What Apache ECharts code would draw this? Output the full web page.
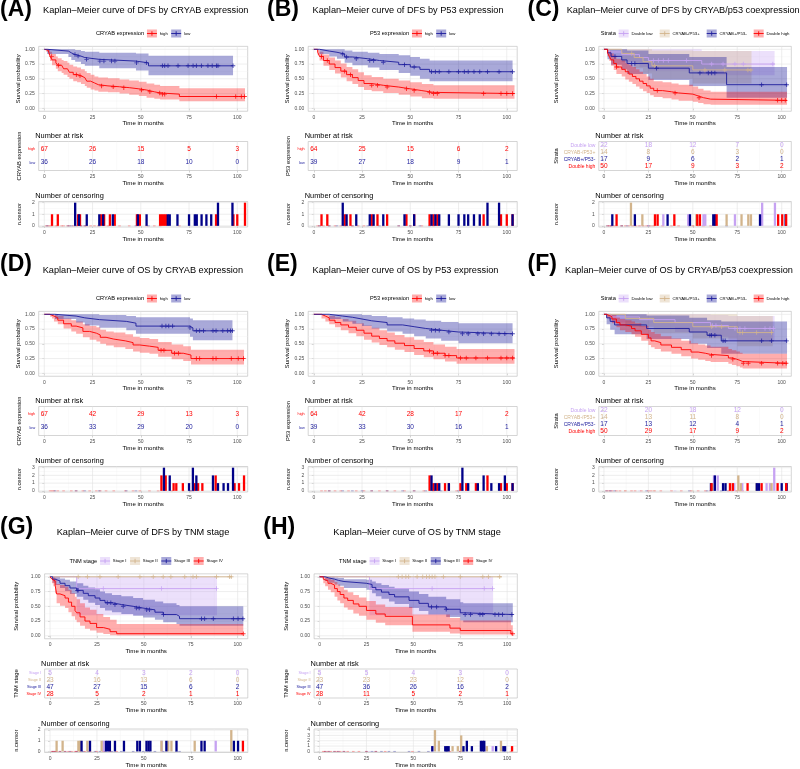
<!DOCTYPE html>
<html><head><meta charset="utf-8">
<script src="https://cdn.jsdelivr.net/npm/echarts@6/dist/echarts.min.js"></script>
<style>html,body{margin:0;padding:0;background:#fff}#c{width:800px;height:769px}</style>
</head><body><div id="c"></div>
<script>
// ---------- ticks ----------
const TIME_TICKS = [0, 25, 50, 75, 100];
const TIME_MINOR = [12.5, 37.5, 62.5, 87.5];
const SURV_TICKS = [0, 0.25, 0.5, 0.75, 1];
const SURV_MINOR = [0.125, 0.375, 0.625, 0.875];

// ---------- curves: [time, surv, lower, upper] ----------
// (A) DFS by CRYAB
const A_high = [[0,1,1,1],[1,0.985,0.96,1],[2,0.955,0.91,1],[3,0.88,0.80,0.96],[4,0.82,0.73,0.92],[6,0.77,0.67,0.88],[7,0.73,0.63,0.85],[9,0.70,0.60,0.82],[10,0.67,0.57,0.80],[12,0.64,0.53,0.77],[13,0.61,0.50,0.74],[15,0.57,0.46,0.71],[17,0.55,0.44,0.69],[19,0.52,0.41,0.66],[21,0.49,0.38,0.63],[22,0.46,0.35,0.60],[24,0.43,0.32,0.57],[26,0.40,0.30,0.54],[28,0.38,0.28,0.52],[33,0.365,0.27,0.51],[39,0.35,0.25,0.49],[44,0.33,0.23,0.47],[49,0.31,0.21,0.45],[53,0.28,0.18,0.42],[57,0.26,0.16,0.40],[60,0.24,0.15,0.38],[70,0.20,0.12,0.34],[104,0.20,0.12,0.34]];
const A_high_cens = [3.8,7.3,16.6,18.5,29.7,35.7,41.2,50.4,54.7,59.8,61.2,62.4,89.2,99.2,102.1,103.8];
const A_low = [[0,1,1,1],[1.5,0.97,0.92,1],[12.5,0.94,0.87,1],[14,0.91,0.82,1],[16,0.885,0.79,0.99],[19,0.86,0.75,0.97],[21,0.83,0.72,0.96],[28.5,0.80,0.68,0.94],[47.5,0.77,0.64,0.93],[54,0.72,0.56,0.89],[97.8,0.72,0.56,0.89]];
const A_low_cens = [15.9,17.5,21.9,28.8,30.9,34.8,36.6,47.8,52.9,61.2,62.4,64.1,69.3,74.5,77.1,78.8,81.4,84.8,87,89.2,90,97.8];
const A_risk_high = [67,26,15,5,3];
const A_risk_low = [36,26,18,10,0];
const A_nc_high = [[4,1],[7,1],[17.5,1],[18.5,1],[29.5,1],[31,1],[34,1],[36.5,1],[48,1],[49.5,1],[60,1],[61,1],[62,1],[63,1],[89,1],[98,1],[100,1],[104,2]];
const A_nc_low = [[16,2],[18,1],[22,1],[28.5,1],[30.5,1],[35.5,1],[48.5,1],[53,1],[64,1],[65,1],[69,1],[75,1],[78,1],[79,1],[81.5,1],[84,1],[86.5,1],[90,2],[97.5,2]];

// (B) DFS by P53
const B_high = [[0,1,1,1],[2,0.95,0.9,1],[3,0.88,0.81,0.96],[5,0.81,0.72,0.91],[8,0.75,0.65,0.86],[11,0.69,0.59,0.81],[14,0.63,0.52,0.76],[17,0.57,0.46,0.70],[20,0.52,0.41,0.66],[23,0.47,0.36,0.61],[26,0.42,0.31,0.56],[30,0.39,0.29,0.53],[36,0.36,0.26,0.50],[44,0.33,0.23,0.47],[50,0.30,0.20,0.44],[56,0.27,0.17,0.41],[62,0.25,0.16,0.39],[104,0.25,0.16,0.39]];
const B_high_cens = [4,7,16,19,30,33,38,48,52,60,62,64,88,97,100,103];
const B_low = [[0,1,1,1],[3,0.97,0.92,1],[8,0.95,0.88,1],[12,0.92,0.84,1],[16,0.87,0.77,0.98],[20,0.84,0.73,0.96],[28,0.81,0.69,0.94],[34,0.78,0.65,0.92],[44,0.74,0.6,0.9],[50,0.70,0.55,0.87],[55,0.66,0.5,0.84],[60,0.62,0.46,0.81],[103,0.62,0.46,0.81]];
const B_low_cens = [15,17,22,29,31,36,47,52,61,63,65,70,75,78,80,83,86,90,96,103];
const B_risk_high = [64,25,15,6,2];
const B_risk_low = [39,27,18,9,1];
const B_nc_high = [[4,1],[7,1],[16,1],[19,1],[30,1],[33,1],[38,1],[48,1],[52,1],[60,1],[62,1],[64,1],[88,1],[97,1],[100,1],[103,1]];
const B_nc_low = [[15,2],[17,1],[22,1],[29,1],[31,1],[36,1],[47,1],[52,1],[61,1],[63,1],[65,1],[70,1],[75,1],[78,1],[80,1],[83,1],[86,1],[90,2],[96,2],[103,1]];

// (C) DFS by CRYAB/p53
const C_dlow = [[0,1,1,1],[3,0.955,0.87,1],[10,0.91,0.78,1],[20,0.86,0.70,1],[25,0.81,0.64,1],[55,0.75,0.56,0.97],[96,0.75,0.56,0.97]];
const C_dlow_cens = [27.8,30.6,33.4,36.2,46.5,60.6,67,73.7,78.4,95];
const C_tan = [[0,1,1,1],[10,0.93,0.79,1],[17,0.86,0.68,1],[22,0.79,0.59,1],[27,0.72,0.5,0.98],[50,0.65,0.42,0.97],[83,0.65,0.42,0.97]];
const C_tan_cens = [15.6,28.5,56.8,68,81,82.7];
const C_blue = [[0,1,1,1],[2,0.94,0.83,1],[4,0.88,0.74,1],[10,0.82,0.66,1],[13,0.76,0.58,0.98],[25,0.68,0.48,0.92],[48,0.60,0.38,0.87],[69,0.40,0.18,0.70],[103,0.40,0.18,0.70]];
const C_blue_cens = [6.2,15.6,17.4,29.6,54,58.7,60.6,62.4,88.7,102.8];
const C_red = [[0,1,1,1],[2,0.94,0.88,1],[3,0.88,0.8,0.97],[4,0.82,0.72,0.93],[5.5,0.76,0.65,0.89],[7,0.70,0.58,0.84],[10,0.66,0.54,0.81],[12,0.62,0.49,0.77],[14,0.58,0.45,0.74],[16,0.54,0.41,0.7],[18,0.50,0.37,0.66],[20,0.46,0.33,0.62],[22,0.42,0.29,0.58],[24,0.38,0.26,0.54],[26,0.34,0.22,0.5],[28,0.30,0.19,0.46],[33,0.28,0.17,0.44],[38,0.26,0.15,0.42],[42,0.24,0.13,0.4],[50,0.21,0.11,0.37],[53,0.18,0.09,0.33],[56,0.155,0.07,0.3],[60,0.135,0.06,0.28],[103,0.135,0.06,0.28]];
const C_red_cens = [7.1,30,40,53.5,97.7,100,102];
const C_risk_dlow = [22,18,12,7,0];
const C_risk_tan = [14,8,6,3,0];
const C_risk_blue = [17,9,6,2,1];
const C_risk_red = [50,17,9,3,2];
const C_nc_dlow = [[33.4,1],[47.4,1],[56,1],[57,1],[73.7,1],[89,2],[96.2,2]];
const C_nc_tan = [[15.2,2],[21.6,1],[52,1],[69,1],[77.4,1],[81.2,1],[82.7,1]];
const C_nc_blue = [[4.7,1],[17.4,1],[35.8,1],[48.4,1],[61.5,1],[62.5,1],[87.8,1],[102.2,1]];
const C_nc_red = [[7.1,1],[28.7,1],[30.2,1],[39.6,1],[52.5,1],[54,1],[63.4,1],[98,1],[100.3,1],[102.5,1]];

// (D) OS by CRYAB
const D_high = [[0,1,1,1],[3,0.985,0.96,1],[4,0.97,0.93,1],[5,0.94,0.88,0.99],[7,0.90,0.83,0.97],[10,0.84,0.76,0.93],[14,0.80,0.71,0.9],[16.5,0.77,0.67,0.88],[20,0.71,0.61,0.83],[23.5,0.68,0.57,0.8],[27,0.65,0.54,0.78],[29,0.61,0.5,0.74],[32,0.58,0.47,0.71],[36,0.55,0.44,0.69],[42,0.52,0.41,0.66],[46,0.48,0.37,0.62],[49.5,0.46,0.35,0.6],[54.5,0.44,0.33,0.58],[59,0.39,0.28,0.53],[66,0.34,0.24,0.49],[72,0.31,0.21,0.46],[76,0.25,0.15,0.4],[103.5,0.25,0.15,0.4]];
const D_high_cens = [60.5,62,67.5,69.5,78.8,80.5,87.4,89,96.9,100.5,103.2];
const D_low = [[0,1,1,1],[5.5,0.97,0.92,1],[16.5,0.94,0.86,1],[21,0.91,0.81,1],[28.5,0.88,0.77,0.99],[42.5,0.85,0.73,0.97],[47.5,0.80,0.67,0.95],[75.5,0.77,0.62,0.93],[77,0.72,0.56,0.9],[97.5,0.72,0.56,0.9]];
const D_low_cens = [61,63,64.5,66.5,75.5,78.8,80.5,82.5,87.4,89,92.5,95,96.5,97.5];
const D_risk_high = [67,42,29,13,3];
const D_risk_low = [36,33,29,20,0];
const D_nc_high = [[60.7,2],[62.9,2],[67,1],[68.4,1],[71.8,1],[77.9,1],[79.7,1],[81.9,1],[88.8,2],[98.6,1],[100.9,1],[103.5,2]];
const D_nc_low = [[62,3],[65,2],[75,1],[77,3],[78.8,2],[87.4,2],[90,1],[92.9,1],[95.2,1],[97.8,3]];

// (E) OS by P53
const E_high = [[0,1,1,1],[4,0.97,0.93,1],[6,0.94,0.88,0.99],[8,0.9,0.83,0.97],[11,0.86,0.78,0.95],[14,0.82,0.73,0.92],[18,0.78,0.68,0.89],[22,0.73,0.63,0.85],[26,0.68,0.57,0.81],[30,0.63,0.52,0.77],[34,0.59,0.48,0.73],[38,0.55,0.44,0.69],[42,0.51,0.4,0.65],[47,0.47,0.36,0.61],[52,0.42,0.31,0.57],[57,0.38,0.27,0.53],[62,0.34,0.24,0.49],[68,0.3,0.2,0.45],[74,0.26,0.16,0.41],[104,0.26,0.16,0.41]];
const E_high_cens = [60,62,64,68,70,76,79,84,90,97,100,103];
const E_low = [[0,1,1,1],[8,0.97,0.92,1],[15,0.95,0.88,1],[20,0.92,0.84,1],[25,0.89,0.8,0.99],[30,0.86,0.76,0.97],[38,0.82,0.71,0.95],[46,0.79,0.67,0.93],[52,0.76,0.63,0.91],[58,0.73,0.59,0.89],[66,0.70,0.55,0.87],[75,0.67,0.51,0.85],[103,0.67,0.51,0.85]];
const E_low_cens = [61,63,65,70,77,80,85,88,92,96,99,103];
const E_risk_high = [64,42,28,17,2];
const E_risk_low = [39,33,30,16,1];
const E_nc_high = [[60,2],[62,1],[64,1],[68,1],[70,1],[76,1],[79,1],[84,1],[90,2],[97,1],[100,1],[103,1]];
const E_nc_low = [[61,2],[63,1],[65,1],[70,1],[77,3],[80,1],[85,1],[88,2],[92,1],[96,1],[99,2],[103,1]];

// (F) OS by CRYAB/p53
const F_dlow = [[0,1,1,1],[4,0.955,0.86,1],[20,0.91,0.78,1],[40,0.86,0.7,1],[60,0.81,0.62,0.99],[70,0.76,0.55,0.97],[96,0.76,0.55,0.97]];
const F_dlow_cens = [61,63,73.7,76.5,79.3,90.6,93.4,95.3];
const F_tan = [[0,1,1,1],[12,0.93,0.79,1],[28,0.86,0.68,1],[50,0.79,0.59,1],[75,0.69,0.46,0.97],[95,0.69,0.46,0.97]];
const F_tan_cens = [60.6,66.2,76.5,78,85.9,94.3];
const F_blue = [[0,1,1,1],[1.5,0.94,0.83,1],[3.5,0.88,0.74,1],[6,0.82,0.66,1],[24,0.76,0.58,0.98],[48,0.70,0.5,0.94],[58,0.645,0.43,0.9],[66,0.55,0.33,0.88],[103,0.55,0.33,0.88]];
const F_blue_cens = [59.6,60.5,62.4,67,68.2,88.7,94.3,102.8];
const F_red = [[0,1,1,1],[1.5,0.98,0.94,1],[3,0.96,0.91,1],[4.5,0.92,0.85,0.99],[7,0.86,0.78,0.95],[9,0.82,0.73,0.92],[12,0.80,0.7,0.9],[15.5,0.76,0.66,0.88],[17.5,0.72,0.62,0.85],[21,0.66,0.55,0.8],[25,0.60,0.48,0.74],[26.5,0.55,0.44,0.7],[28.5,0.52,0.41,0.67],[32,0.48,0.37,0.63],[38,0.44,0.33,0.59],[43.5,0.40,0.29,0.55],[49,0.36,0.25,0.51],[53,0.34,0.23,0.49],[57,0.32,0.21,0.47],[60,0.30,0.19,0.45],[70,0.26,0.16,0.41],[72,0.24,0.14,0.39],[74.5,0.22,0.12,0.37],[76.5,0.20,0.1,0.35],[78,0.17,0.08,0.33],[103,0.17,0.08,0.33]];
const F_red_cens = [60.5,72.5,78.4,81.2,88.7,97.7,100.6,102.5];
const F_risk_dlow = [22,20,18,12,0];
const F_risk_tan = [14,13,11,8,0];
const F_risk_blue = [17,13,12,4,1];
const F_risk_red = [50,29,17,9,2];
const F_nc_dlow = [[61.9,2],[64,2],[73.3,1],[77.8,1],[91.5,1],[93.4,1],[95.8,3]];
const F_nc_tan = [[61,1],[75.6,2],[77,1],[85.9,1],[94.3,1]];
const F_nc_blue = [[60.2,1],[62.4,2],[67,1],[68.4,1],[86,1],[87.2,1],[100,1],[102.8,1]];
const F_nc_red = [[60.5,1],[70.9,1],[72.5,1],[80.8,1],[88.7,1],[97.7,1],[102.5,1]];

// (G) DFS by TNM stage
const G_s1 = [[0,1,1,1],[14.2,0.8,0.35,1],[89,0.8,0.35,1]];
const G_s1_cens = [28.4,59.4,88.7];
const G_s2 = [[0,1,1,1],[97,1,1,1]];
const G_s2_cens = [15,19.9,26.6,36.3,47.9,55,60.3,64.4,71.8,76.2,78,88.7,95.7,96.6];
const G_s3 = [[0,1,1,1],[1.4,0.96,0.9,1],[2.7,0.93,0.86,1],[5.3,0.89,0.81,0.97],[8,0.85,0.76,0.95],[10.6,0.81,0.71,0.92],[14.2,0.77,0.66,0.89],[17.7,0.72,0.61,0.85],[20.4,0.68,0.56,0.82],[24,0.64,0.52,0.79],[26.6,0.60,0.47,0.75],[29.3,0.56,0.43,0.72],[33,0.53,0.4,0.69],[38,0.50,0.37,0.67],[44.3,0.47,0.34,0.64],[49.6,0.44,0.31,0.61],[55.9,0.40,0.27,0.58],[60.3,0.36,0.23,0.55],[67.4,0.33,0.2,0.52],[69,0.29,0.17,0.5],[103,0.29,0.17,0.5]];
const G_s3_cens = [14.5,15,30.5,32.4,34.6,39,46,47.5,51.5,53,60.5,80.7,82.4,87,97.7,100.2,102.8];
const G_s4 = [[0,1,1,1],[1,0.96,0.89,1],[1.8,0.93,0.84,1],[2.7,0.86,0.72,0.97],[3.5,0.71,0.55,0.88],[5.3,0.68,0.51,0.86],[8,0.64,0.47,0.83],[9.8,0.57,0.4,0.78],[11.5,0.50,0.33,0.72],[13.3,0.43,0.27,0.66],[14.2,0.39,0.23,0.62],[16,0.32,0.17,0.55],[18.6,0.25,0.12,0.48],[21.3,0.21,0.09,0.44],[24.8,0.14,0.05,0.37],[28.4,0.11,0.03,0.32],[32,0.07,0.01,0.27],[35.5,0.036,0.005,0.2],[103,0.036,0.005,0.2]];
const G_s4_cens = [103];
const G_risk_s1 = [5,4,3,2,0];
const G_risk_s2 = [23,16,13,6,0];
const G_risk_s3 = [47,27,15,6,2];
const G_risk_s4 = [28,5,2,1,1];
const G_nc_s1 = [[28.5,1],[59.5,1],[88.3,1]];
const G_nc_s2 = [[3.5,1],[6.7,1],[15.1,1],[16,1],[19.9,1],[27.5,1],[59.4,1],[63,1],[64.7,1],[77.1,1],[96.6,2]];
const G_nc_s3 = [[16.8,1],[21.3,1],[29.8,1],[30.8,1],[31.9,1],[34.6,1],[39.4,1],[46.5,1],[47.9,1],[51.4,1],[52.5,1],[53.5,1],[62,1],[67.4,1],[80.7,1],[82.4,1],[98,1],[100.2,1]];
const G_nc_s4 = [[102.8,1]];

// (H) OS by TNM stage
const H_s1 = [[0,1,1,1],[26.6,0.8,0.35,1],[92.5,0.8,0.35,1]];
const H_s1_cens = [60,87.8,92.2];
const H_s2 = [[0,1,1,1],[97,1,1,1]];
const H_s2_cens = [42,44,46,47.5,52,55,57,58.5,60,61.5,66,75,87,90,96];
const H_s3 = [[0,1,1,1],[3,0.98,0.93,1],[5,0.96,0.9,1],[8,0.94,0.87,0.99],[10,0.92,0.85,0.98],[13,0.89,0.81,0.96],[25,0.87,0.78,0.95],[28,0.82,0.72,0.92],[30,0.78,0.67,0.89],[33,0.74,0.63,0.86],[37,0.70,0.58,0.83],[40,0.66,0.54,0.8],[47.7,0.60,0.47,0.75],[53,0.55,0.42,0.71],[58,0.49,0.36,0.66],[67.5,0.45,0.32,0.62],[75,0.39,0.26,0.57],[76.6,0.36,0.23,0.55],[103,0.36,0.23,0.55]];
const H_s3_cens = [59.7,62.4,67.5,77.6,80.5,85.5,87,93.5,95.5,97.5,102.5];
const H_s4 = [[0,1,1,1],[2,0.96,0.89,1],[3,0.93,0.84,1],[4.5,0.89,0.78,0.97],[6,0.86,0.74,0.95],[8,0.80,0.66,0.91],[9.5,0.75,0.6,0.87],[11,0.70,0.55,0.83],[13,0.64,0.48,0.78],[15,0.60,0.44,0.74],[18,0.54,0.38,0.69],[21,0.50,0.34,0.65],[25,0.43,0.27,0.59],[30,0.37,0.22,0.53],[35,0.33,0.18,0.49],[49.5,0.185,0.07,0.36],[69.5,0.13,0.04,0.3],[75,0.09,0.02,0.26],[102,0.034,0.005,0.18],[103,0.034,0.005,0.18]];
const H_s4_cens = [103];
const H_risk_s1 = [5,5,4,3,0];
const H_risk_s2 = [23,23,23,12,0];
const H_risk_s3 = [47,36,26,16,2];
const H_risk_s4 = [28,11,5,2,1];
const H_nc_s1 = [[60,1],[87.8,1],[92.3,1]];
const H_nc_s2 = [[61.5,4],[63.6,2],[70.9,1],[73.7,1],[75.5,3],[89.2,1],[96.7,2]];
const H_nc_s3 = [[60.1,1],[67,1],[68,1],[68.8,1],[76.7,1],[78.5,2],[81.2,1],[86,2],[87,2],[87.8,2],[94.1,1],[98,1],[98.9,1]];
const H_nc_s4 = [[102.6,1]];

// ---------- styling ----------
const RED = '#FF0000', NAVY = '#1C1C9C', LAV = '#C6A2F2', TAN = '#D2B48C';
const BAND = {[RED]:'rgba(255,0,0,0.32)', [NAVY]:'rgba(28,28,156,0.38)', [LAV]:'rgba(198,162,242,0.33)', [TAN]:'rgba(210,180,140,0.35)'};
const BARC = {[RED]:'#FF0000', [NAVY]:'#000088', [LAV]:'#C6A2F2', [TAN]:'#D2B48C'};
const FF = '"Liberation Sans", Arial, Helvetica, sans-serif';
const PLUS = 'path://M4,0H6V4H10V6H6V10H4V6H0V4H4Z';
const XMIN = -2.9, XMAX = 105.4;

const grids = [], xAxes = [], yAxes = [], series = [], gfx = [];
const mctx = document.createElement('canvas').getContext('2d');
function tw(t, size){ mctx.font = size + 'px ' + FF; return mctx.measureText(t).width; }
function txt(x, y, text, size, o){
  o = o || {};
  gfx.push({type:'text', x:x, y:y, rotation:o.rot||0, silent:true, z:50,
    style:{text:text, font:(o.bold?'bold ':'') + size + 'px ' + FF, fill:o.color||'#000',
      align:o.align||'left', verticalAlign:'middle', textAlign:o.align||'left', textVerticalAlign:'middle'}});
}
function stepAt(rows, t){ let s = rows[0][1]; for (const r of rows){ if (r[0] <= t) s = r[1]; else break; } return s; }

function addGrid(left, top, width, height){
  grids.push({left:left, top:top, width:width, height:height, show:true, borderColor:'#B8B8B8', borderWidth:0.6, backgroundColor:'#fff'});
  return grids.length - 1;
}
function addX(gi, gap){
  xAxes.push({gridIndex:gi, type:'value', min:XMIN, max:XMAX,
    axisLine:{show:false}, splitLine:{show:false},
    axisTick:{show:true, length:2, lineStyle:{color:'#B3B3B3', width:0.6}, customValues:TIME_TICKS},
    axisLabel:{customValues:TIME_TICKS, fontSize:5, color:'#4D4D4D', margin:3.5, fontFamily:FF},
    name:'Time in months', nameLocation:'middle', nameGap:gap,
    nameTextStyle:{fontSize:6.1, color:'#000', fontFamily:FF}});
}
function addY(gi, o){
  yAxes.push({gridIndex:gi, type:'value', min:o.min, max:o.max, inverse:!!o.inverse,
    axisLine:{show:false}, splitLine:{show:false},
    axisTick:{show:true, length:2, lineStyle:{color:'#B3B3B3', width:0.6}, customValues:o.ticks},
    axisLabel:{customValues:o.ticks, fontSize:5, color:'#4D4D4D', margin:o.margin||4, fontFamily:FF, formatter:o.fmt, rich:o.rich},
    name:o.name, nameLocation:'middle', nameRotate:90, nameGap:o.gap,
    nameTextStyle:{fontSize:5.8, color:'#000', fontFamily:FF}});
}
function gridLines(gi, xMaj, xMin, yMaj, yMin){
  series.push({type:'custom', xAxisIndex:gi, yAxisIndex:gi, silent:true, z:1, data:[[0,0]],
    renderItem:function(params, api){
      const cs = params.coordSys, ch = [];
      const v = (vals, col, w) => vals.forEach(x => { const p = api.coord([x, 0]); ch.push({type:'line', shape:{x1:p[0], y1:cs.y, x2:p[0], y2:cs.y+cs.height}, style:{stroke:col, lineWidth:w}}); });
      const h = (vals, col, w) => vals.forEach(y => { const p = api.coord([0, y]); ch.push({type:'line', shape:{x1:cs.x, y1:p[1], x2:cs.x+cs.width, y2:p[1]}, style:{stroke:col, lineWidth:w}}); });
      v(xMin, '#F2F2F2', 0.4); h(yMin, '#F2F2F2', 0.4);
      v(xMaj, '#E3E3E3', 0.6); h(yMaj, '#E3E3E3', 0.6);
      return {type:'group', children:ch};
    }});
}
function band(gi, rows, color){
  series.push({type:'custom', xAxisIndex:gi, yAxisIndex:gi, silent:true, z:2, data:[[rows[0][0], rows[0][1]]],
    renderItem:function(params, api){
      const up = [], lo = [];
      for (let i = 0; i < rows.length; i++){
        const t0 = rows[i][0], t1 = i < rows.length-1 ? rows[i+1][0] : rows[i][0];
        up.push(api.coord([t0, rows[i][3]]), api.coord([t1, rows[i][3]]));
        lo.push(api.coord([t0, rows[i][2]]), api.coord([t1, rows[i][2]]));
      }
      return {type:'polygon', shape:{points:up.concat(lo.reverse())}, style:{fill:BAND[color]}};
    }});
}
function curve(gi, rows, cens, color, name){
  series.push({type:'line', name:name, xAxisIndex:gi, yAxisIndex:gi, step:'end', silent:true, z:3,
    data:rows.map(r => [r[0], r[1]]), symbol:'none', showSymbol:false, lineStyle:{color:color, width:0.9}, itemStyle:{color:color}});
  series.push({type:'scatter', xAxisIndex:gi, yAxisIndex:gi, silent:true, z:4, symbol:PLUS, symbolSize:4.5,
    data:cens.map(t => [t, stepAt(rows, t)]), itemStyle:{color:color}});
}
function riskText(gi, risk, colors){
  const data = [];
  risk.forEach((arr, ri) => arr.forEach((v, ti) => data.push([TIME_TICKS[ti], ri+1, v])));
  series.push({type:'custom', xAxisIndex:gi, yAxisIndex:gi, silent:true, z:5, data:data,
    renderItem:function(params, api){
      const p = api.coord([api.value(0), api.value(1)]);
      return {type:'text', x:p[0], y:p[1], style:{text:String(api.value(2)), fill:colors[api.value(1)-1],
        font:'6.5px ' + FF, align:'center', verticalAlign:'middle'}};
    }});
}
function bars(gi, data, color){
  series.push({type:'bar', xAxisIndex:gi, yAxisIndex:gi, silent:true, z:3, data:data, barWidth:2.3, barGap:'-100%',
    itemStyle:{color:BARC[color]}});
}
// zero-count censoring bars at event times (ggplot draws them as flat marks on the baseline)
function zeroBars(gi, rows, color){
  const data = [];
  for (let i = 1; i < rows.length - 1; i++) if (rows[i][1] < rows[i-1][1]) data.push([rows[i][0], 0]);
  series.push({type:'custom', xAxisIndex:gi, yAxisIndex:gi, silent:true, z:2, data:data,
    renderItem:function(params, api){
      const p = api.coord([api.value(0), 0]);
      return {type:'line', shape:{x1:p[0]-1.3, y1:p[1], x2:p[0]+1.3, y2:p[1]}, style:{stroke:BARC[color], lineWidth:0.7, opacity:0.45}};
    }});
}
function legend(cx, cy, title, names, colors, gap){
  const TS = 5.7, LS = 4.3, K = 10, G1 = 2.8, G2 = 2.8, G3 = gap;
  const lw = names.map(n => tw(n, LS));
  let total = tw(title, TS) + G1 + lw.reduce((a, b) => a + b, 0) + names.length*(K+G2) + (names.length-1)*G3;
  let x = cx - total/2;
  txt(x, cy, title, TS);
  x += tw(title, TS) + G1;
  names.forEach((n, i) => {
    gfx.push({type:'rect', silent:true, z:50, shape:{x:x, y:cy-4, width:K, height:8}, style:{fill:BAND[colors[i]]}});
    gfx.push({type:'line', silent:true, z:51, shape:{x1:x, y1:cy, x2:x+K, y2:cy}, style:{stroke:colors[i], lineWidth:0.9}});
    gfx.push({type:'line', silent:true, z:51, shape:{x1:x+K/2, y1:cy-2.2, x2:x+K/2, y2:cy+2.2}, style:{stroke:colors[i], lineWidth:0.9}});
    txt(x + K + G2, cy, n, LS);
    x += K + G2 + lw[i] + G3;
  });
}

function buildPanel(P){
  const rb = P.rb, L = P.left, W = P.right - P.left, n = P.names.length;
  const yGap = L - P.yTitleX - 3;
  txt(P.letterX, P.labelCY, P.letter, 23, {bold:true});
  txt(P.titleX, P.titleCY, P.title, 9.2);
  legend((P.left + P.right)/2, rb + 33.5, P.legendTitle, P.names, P.colors, P.legGap);
  // KM plot
  const g1 = addGrid(L, rb + 46.35, W, 64.9);
  addX(g1, 9.5);
  addY(g1, {min:-0.05, max:1.05, ticks:SURV_TICKS, fmt:v => Number(v).toFixed(2), name:'Survival probability', gap:yGap, margin:4});
  gridLines(g1, TIME_TICKS, TIME_MINOR, SURV_TICKS, SURV_MINOR);
  P.curves.forEach((c, i) => band(g1, c, P.colors[i]));
  P.curves.forEach((c, i) => curve(g1, c, P.cens[i], P.colors[i], P.names[i]));
  // risk table
  txt(L - 3.5, rb + 136, 'Number at risk', 7.4);
  const g2 = addGrid(L, rb + 141.5, W, 29);
  addX(g2, 9.5);
  const rich = {}; P.colors.forEach((c, i) => { rich['r' + (i+1)] = {color:c, fontSize:P.rowFont, fontFamily:FF}; });
  const rowIdx = P.names.map((_, i) => i + 1);
  addY(g2, {min:0.4, max:n + 0.6, inverse:true, ticks:rowIdx, fmt:v => '{r' + v + '|' + P.names[v-1] + '}', rich:rich, name:P.strataTitle, gap:yGap, margin:3.5});
  gridLines(g2, TIME_TICKS, TIME_MINOR, [], []);
  riskText(g2, P.risk, P.colors);
  // censoring
  txt(L - 3.5, rb + 196, 'Number of censoring', 7.4);
  const g3 = addGrid(L, rb + 201.5, W, 25.5);
  addX(g3, 9.5);
  const m = P.ncMax, ct = [], cm = [];
  for (let k = 0; k <= m; k++){ ct.push(k); if (k < m) cm.push(k + 0.5); }
  addY(g3, {min:-0.05*m, max:1.05*m, ticks:ct, fmt:v => String(v), name:'n.censor', gap:yGap, margin:4});
  gridLines(g3, TIME_TICKS, TIME_MINOR, ct, cm);
  P.curves.forEach((c, i) => zeroBars(g3, c, P.colors[i]));
  P.ncens.forEach((d, i) => bars(g3, d, P.colors[i]));
}

const TWO = ['high', 'low'], TWOC = [RED, NAVY];
const FOUR = ['Double low', 'CRYAB-/P53+', 'CRYAB+/P53-', 'Double high'], FOURC = [LAV, TAN, NAVY, RED];
const TNM = ['Stage I', 'Stage II', 'Stage III', 'Stage IV'];

const panels = [
  {letter:'(A)', letterX:0, labelCY:10, titleX:43, titleCY:10, rb:0, left:38.7, right:247.7, yTitleX:19, legGap:3.3,
   title:'Kaplan–Meier curve of DFS by CRYAB expression', legendTitle:'CRYAB expression', strataTitle:'CRYAB expression',
   names:TWO, colors:TWOC, rowFont:3.8, curves:[A_high, A_low], cens:[A_high_cens, A_low_cens], risk:[A_risk_high, A_risk_low], ncens:[A_nc_high, A_nc_low], ncMax:2},
  {letter:'(B)', letterX:267, labelCY:10, titleX:312.5, titleCY:10, rb:0, left:308.2, right:517.2, yTitleX:288.5, legGap:3.3,
   title:'Kaplan–Meier curve of DFS by P53 expression', legendTitle:'P53 expression', strataTitle:'P53 expression',
   names:TWO, colors:TWOC, rowFont:3.8, curves:[B_high, B_low], cens:[B_high_cens, B_low_cens], risk:[B_risk_high, B_risk_low], ncens:[B_nc_high, B_nc_low], ncMax:2},
  {letter:'(C)', letterX:527.5, labelCY:10, titleX:566.7, titleCY:10, rb:0, left:598.8, right:791.3, yTitleX:556.5, legGap:7,
   title:'Kaplan–Meier curve of DFS by CRYAB/p53 coexpression', legendTitle:'Strata', strataTitle:'Strata',
   names:FOUR, colors:FOURC, rowFont:5, curves:[C_dlow, C_tan, C_blue, C_red], cens:[C_dlow_cens, C_tan_cens, C_blue_cens, C_red_cens],
   risk:[C_risk_dlow, C_risk_tan, C_risk_blue, C_risk_red], ncens:[C_nc_dlow, C_nc_tan, C_nc_blue, C_nc_red], ncMax:2},
  {letter:'(D)', letterX:0, labelCY:265, titleX:42.7, titleCY:270, rb:265, left:38.7, right:247.7, yTitleX:19, legGap:3.3,
   title:'Kaplan–Meier curve of OS by CRYAB expression', legendTitle:'CRYAB expression', strataTitle:'CRYAB expression',
   names:TWO, colors:TWOC, rowFont:3.8, curves:[D_high, D_low], cens:[D_high_cens, D_low_cens], risk:[D_risk_high, D_risk_low], ncens:[D_nc_high, D_nc_low], ncMax:3},
  {letter:'(E)', letterX:267, labelCY:265, titleX:312.5, titleCY:270, rb:265, left:308.2, right:517.2, yTitleX:288.5, legGap:3.3,
   title:'Kaplan–Meier curve of OS by P53 expression', legendTitle:'P53 expression', strataTitle:'P53 expression',
   names:TWO, colors:TWOC, rowFont:3.8, curves:[E_high, E_low], cens:[E_high_cens, E_low_cens], risk:[E_risk_high, E_risk_low], ncens:[E_nc_high, E_nc_low], ncMax:3},
  {letter:'(F)', letterX:527.5, labelCY:265, titleX:565, titleCY:270, rb:265, left:598.8, right:791.3, yTitleX:556.5, legGap:7,
   title:'Kaplan–Meier curve of OS by CRYAB/p53 coexpression', legendTitle:'Strata', strataTitle:'Strata',
   names:FOUR, colors:FOURC, rowFont:5, curves:[F_dlow, F_tan, F_blue, F_red], cens:[F_dlow_cens, F_tan_cens, F_blue_cens, F_red_cens],
   risk:[F_risk_dlow, F_risk_tan, F_risk_blue, F_risk_red], ncens:[F_nc_dlow, F_nc_tan, F_nc_blue, F_nc_red], ncMax:3},
  {letter:'(G)', letterX:0, labelCY:527.5, titleX:56.7, titleCY:532, rb:527.5, left:44.6, right:247.8, yTitleX:16.5, legGap:3.6,
   title:'Kaplan–Meier curve of DFS by TNM stage', legendTitle:'TNM stage', strataTitle:'TNM stage',
   names:TNM, colors:FOURC, rowFont:3.8, curves:[G_s1, G_s2, G_s3, G_s4], cens:[G_s1_cens, G_s2_cens, G_s3_cens, G_s4_cens],
   risk:[G_risk_s1, G_risk_s2, G_risk_s3, G_risk_s4], ncens:[G_nc_s1, G_nc_s2, G_nc_s3, G_nc_s4], ncMax:2},
  {letter:'(H)', letterX:263.3, labelCY:527.5, titleX:333.3, titleCY:532, rb:527.5, left:314.1, right:517.3, yTitleX:286, legGap:3.6,
   title:'Kaplan–Meier curve of OS by TNM stage', legendTitle:'TNM stage', strataTitle:'TNM stage',
   names:TNM, colors:FOURC, rowFont:3.8, curves:[H_s1, H_s2, H_s3, H_s4], cens:[H_s1_cens, H_s2_cens, H_s3_cens, H_s4_cens],
   risk:[H_risk_s1, H_risk_s2, H_risk_s3, H_risk_s4], ncens:[H_nc_s1, H_nc_s2, H_nc_s3, H_nc_s4], ncMax:4}
];
panels.forEach(buildPanel);

const chart = echarts.init(document.getElementById('c'), null, {renderer:'canvas'});
chart.setOption({animation:false, backgroundColor:'#fff', textStyle:{fontFamily:FF},
  grid:grids, xAxis:xAxes, yAxis:yAxes, series:series, graphic:{elements:gfx}});
</script></body></html>
